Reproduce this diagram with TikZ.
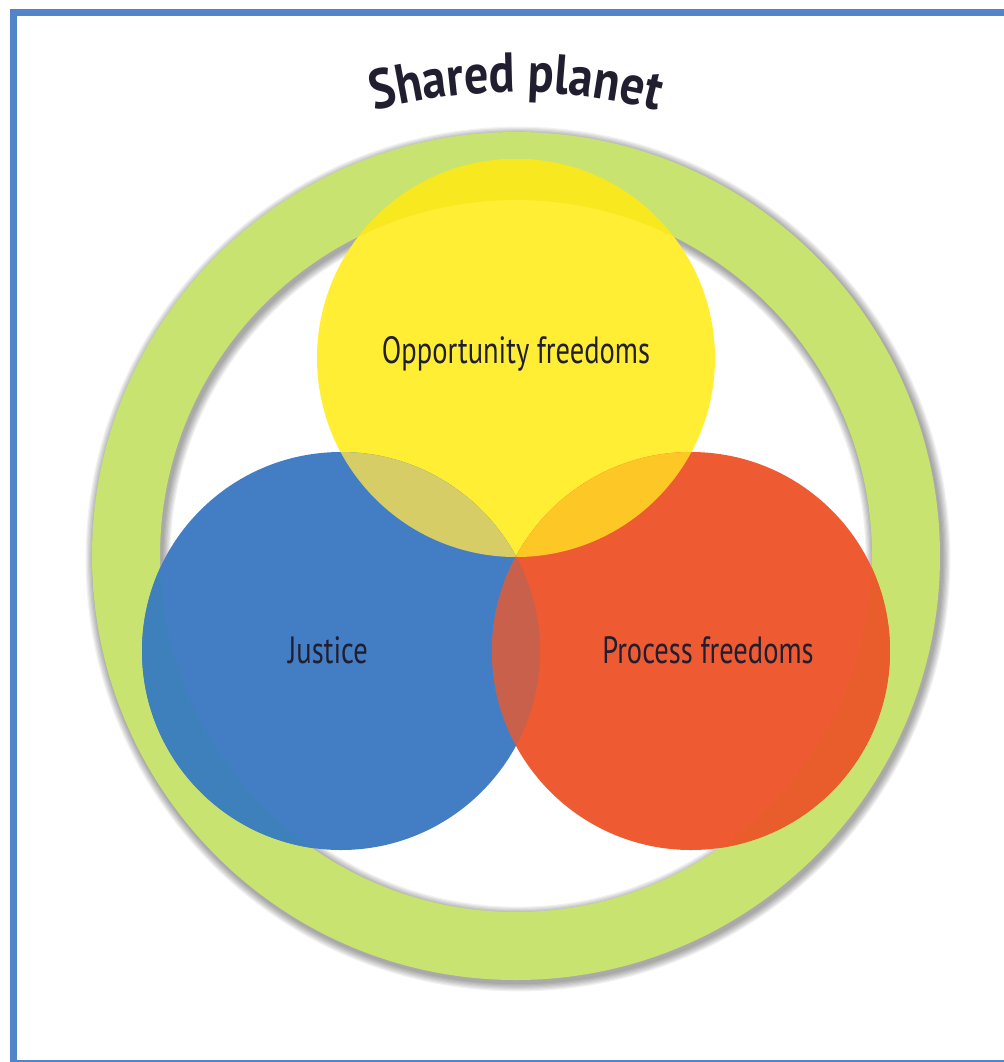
\documentclass[tikz,border=0pt]{standalone}
\usepackage{fontspec}
\newfontfamily\condfont[FakeStretch=0.75]{PT Sans}
\newfontfamily\titlefont[FakeStretch=0.86]{PT Sans}
\usetikzlibrary{decorations.text}
\definecolor{frameblue}{RGB}{80,133,204}
\definecolor{ringgreen}{RGB}{200,227,111}
\definecolor{cyellow}{RGB}{255,238,51}
\definecolor{cyelring}{RGB}{248,232,31}
\definecolor{cblue}{RGB}{67,126,197}
\definecolor{cbluering}{RGB}{62,128,188}
\definecolor{cred}{RGB}{238,91,50}
\definecolor{credring}{RGB}{233,92,44}
\definecolor{yb}{RGB}{214,205,102}
\definecolor{yr}{RGB}{253,200,38}
\definecolor{br}{RGB}{200,96,75}
\definecolor{textdark}{RGB}{33,30,48}
\tikzset{
  label text/.style={font=\condfont\fontsize{19}{22}\selectfont, text=textdark, inner sep=0pt, anchor=base},
}
\begin{document}
\begin{tikzpicture}[x=0.5pt,y=0.5pt]
\useasboundingbox (0,0) rectangle (1004,-1062);
\fill[white] (0,0) rectangle (1004,-1062);
% frame
\fill[frameblue] (10,-9) rectangle (1004,-16);
\fill[frameblue] (10,-9) rectangle (17,-1062);
\fill[frameblue] (10,-1059.5) rectangle (1004,-1061.5);
% centres
\coordinate (ringc) at (516,-556);
\coordinate (shc) at (518,-559);
\coordinate (yc) at (516,-358);
\coordinate (bc) at (341,-651);
\coordinate (rc) at (691,-651);
% ring shadow
\foreach \i in {1,...,7}{
  \fill[black,opacity=0.055,even odd rule] (shc) circle[radius={424+\i*1.2}] circle[radius={356-\i*1.2}];
}
% ring
\fill[ringgreen,even odd rule] (ringc) circle[radius=424] circle[radius=356];
% circles
\fill[cyellow] (yc) circle[radius=199];
\fill[cblue] (bc) circle[radius=199];
\fill[cred] (rc) circle[radius=199];
% circles over the ring
\begin{scope}[even odd rule]
  \clip (ringc) circle[radius=424] circle[radius=356];
  \fill[cyelring] (yc) circle[radius=199];
  \fill[cbluering] (bc) circle[radius=199];
  \fill[credring] (rc) circle[radius=199];
\end{scope}
% overlaps
\begin{scope}
  \clip (yc) circle[radius=199];
  \fill[yb] (bc) circle[radius=199];
  \fill[yr] (rc) circle[radius=199];
\end{scope}
\begin{scope}
  \clip (bc) circle[radius=199];
  \fill[br] (rc) circle[radius=199];
\end{scope}
% labels
\node[label text] (opp) at (516,-363) {Opportunity freedoms};
\node[label text] (jus) at (328,-663) {Justice};
\node[label text] (pro) at (708,-663) {Process freedoms};
% title
\path[decorate, decoration={text along path, text align=center,
   text={|\titlefont\bfseries\fontsize{28}{32}\selectfont\color{textdark}|Shared planet}}]
   (516,-652) ++(120:560) arc[start angle=120, end angle=60, radius=560];
\end{tikzpicture}
\end{document}
